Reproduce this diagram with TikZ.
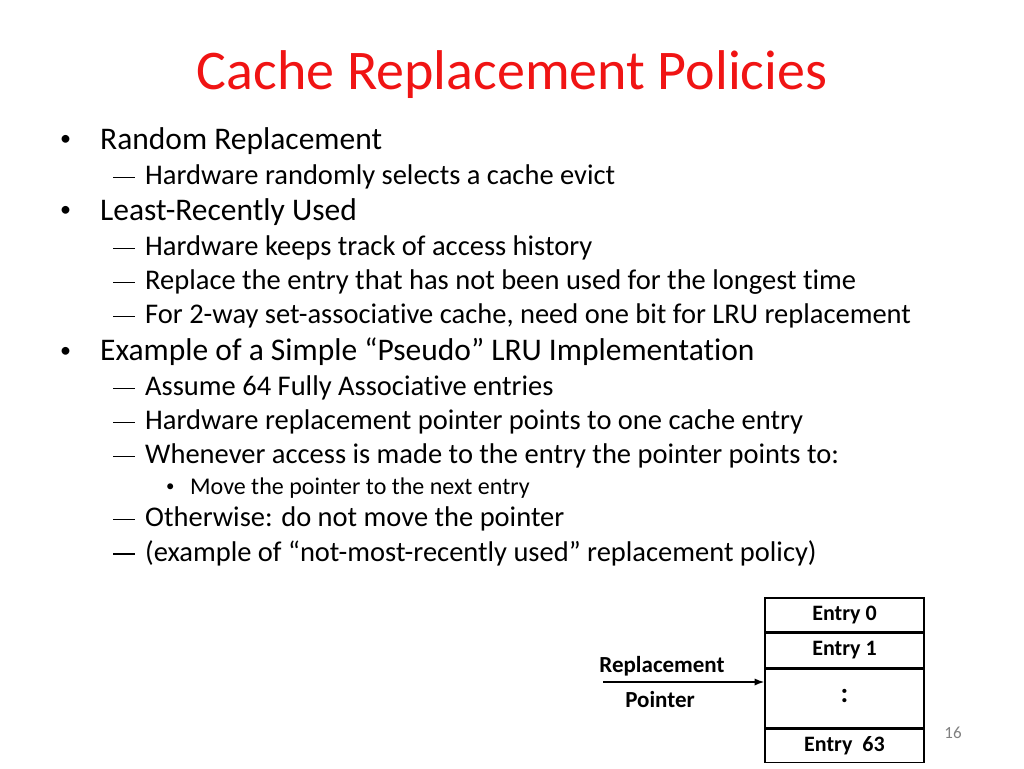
\documentclass[tikz,border=0pt]{standalone}
\usepackage{fontspec}
\setmainfont{Carlito}[Ligatures=NoCommon]
\usetikzlibrary{positioning, arrows.meta}
\definecolor{titlered}{RGB}{240,20,20}
\newcommand{\bul}[1]{\makebox[#1][l]{\raisebox{0.12em}{\scalebox{0.7}{\textbullet}}}}
\newcommand{\dsh}{\makebox[32pt][l]{\raisebox{0.23em}{\rule{22pt}{1.2pt}}}}
\begin{document}
\begin{tikzpicture}[
            x=1pt, y=-1pt,
            lone/.style={anchor=west, inner sep=0pt, font=\fontsize{31.5}{34}\selectfont},
            ltwo/.style={anchor=west, inner sep=0pt, font=\fontsize{28.5}{31}\selectfont},
            lthree/.style={anchor=west, inner sep=0pt, font=\fontsize{24}{26}\selectfont},
            cell/.style={draw, line width=1.5pt, minimum width=159pt, inner sep=0pt, font=\bfseries\fontsize{22}{24}\selectfont},
            arrow/.style={-Latex, line width=1.5pt}
        ]
        \useasboundingbox (0,0) rectangle (1024,768);
        % Title
        \node[text=titlered, font=\fontsize{56}{60}\selectfont] (title) at (512,75) {Cache Replacement Policies};

        % Bulleted text
        \node[lone] (b1) at (60,141) {\bul{40pt}Random Replacement};
        \node[ltwo] (b1a) at (113,177) {\dsh Hardware randomly selects a cache evict};
        \node[lone] (b2) at (60,212) {\bul{40pt}Least-Recently Used};
        \node[ltwo] (b2a) at (113,248) {\dsh Hardware keeps track of access history};
        \node[ltwo] (b2b) at (113,282) {\dsh Replace the entry that has not been used for the longest time};
        \node[ltwo] (b2c) at (113,316) {\dsh For 2-way set-associative cache, need one bit for LRU replacement};
        \node[lone] (b3) at (60,352) {\bul{40pt}Example of a Simple “Pseudo” LRU Implementation};
        \node[ltwo] (b3a) at (113,388) {\dsh Assume 64 Fully Associative entries};
        \node[ltwo] (b3b) at (113,422) {\dsh Hardware replacement pointer points to one cache entry};
        \node[ltwo] (b3c) at (113,456) {\dsh Whenever access is made to the entry the pointer points to:};
        \node[lthree] (b3c1) at (166,488) {\bul{24pt}Move the pointer to the next entry};
        \node[ltwo] (b3d) at (113,519) {\dsh Otherwise: do not move the pointer};
        \node[ltwo] (b3e) at (113,553) {\dsh (example of “not-most-recently used” replacement policy)};

        % Entry table
        \node[cell, minimum height=34pt] (e0) at (844.5,615) {Entry 0};
        \node[cell, minimum height=34pt, below=0pt of e0] (e1) {Entry 1};
        \node[cell, minimum height=59pt, below=0pt of e1] (edots) {\raisebox{6pt}{\fontsize{28}{30}\selectfont :}};
        \node[cell, minimum height=33pt, below=0pt of edots] (e63) {Entry\ \ 63};

        % Pointer
        \coordinate (ptr) at (603,682);
        \node[font=\bfseries\fontsize{23}{25}\selectfont] (lblrep) at (662,666) {Replacement};
        \node[font=\bfseries\fontsize{23}{25}\selectfont] (lblptr) at (660,700) {Pointer};
        \draw[arrow] (ptr) -- (ptr -| edots.west);

        % Slide number
        \node[text=gray, font=\fontsize{17}{19}\selectfont] (num) at (953,733) {16};
    \end{tikzpicture}
\end{document}
